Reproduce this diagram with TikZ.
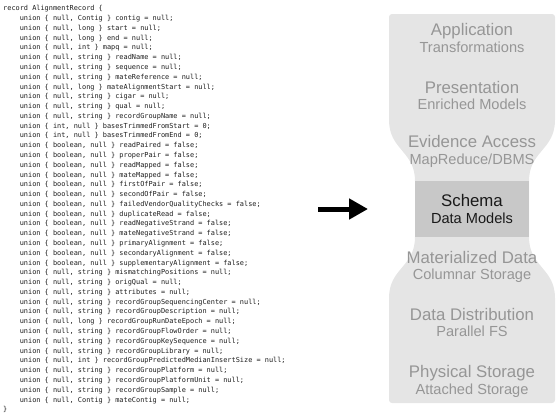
\documentclass[tikz,border=0pt]{standalone}
\usepackage{fontspec}
\setmainfont{Liberation Sans}
\newfontfamily\codefont{DejaVu Sans Mono}
\usetikzlibrary{arrows.meta}

\definecolor{stackfill}{RGB}{229,229,229}
\definecolor{schemafill}{RGB}{200,200,200}
\definecolor{layertext}{RGB}{150,150,150}
\definecolor{codeink}{RGB}{30,30,30}

\newcommand{\ind}{\hspace*{16.6pt}}

\tikzset{
  codeline/.style={anchor=base west, inner sep=0pt, text=codeink,
    font=\codefont\fontsize{6.9}{9.78}\selectfont},
  layertitle/.style={anchor=base, inner sep=0pt, text=layertext,
    font=\fontsize{16.8}{18}\selectfont},
  layersub/.style={anchor=base, inner sep=0pt, text=layertext,
    font=\fontsize{14.6}{16}\selectfont},
  schematitle/.style={layertitle, text=black!90},
  schemasub/.style={layersub, text=black!90},
  bigarrow/.style={line width=5pt, -{Triangle[length=19pt,width=20pt]}},
}

\begin{document}
\begin{tikzpicture}[x=1pt, y=-1pt]
  \useasboundingbox (0,0) rectangle (557,418);

  % Avro record definition, one node per source line
  \foreach \txt [count=\i from 0] in {
    {record AlignmentRecord \{},
    {\ind union \{ null, Contig \} contig = null;},
    {\ind union \{ null, long \} start = null;},
    {\ind union \{ null, long \} end = null;},
    {\ind union \{ null, int \} mapq = null;},
    {\ind union \{ null, string \} readName = null;},
    {\ind union \{ null, string \} sequence = null;},
    {\ind union \{ null, string \} mateReference = null;},
    {\ind union \{ null, long \} mateAlignmentStart = null;},
    {\ind union \{ null, string \} cigar = null;},
    {\ind union \{ null, string \} qual = null;},
    {\ind union \{ null, string \} recordGroupName = null;},
    {\ind union \{ int, null \} basesTrimmedFromStart = 0;},
    {\ind union \{ int, null \} basesTrimmedFromEnd = 0;},
    {\ind union \{ boolean, null \} readPaired = false;},
    {\ind union \{ boolean, null \} properPair = false;},
    {\ind union \{ boolean, null \} readMapped = false;},
    {\ind union \{ boolean, null \} mateMapped = false;},
    {\ind union \{ boolean, null \} firstOfPair = false;},
    {\ind union \{ boolean, null \} secondOfPair = false;},
    {\ind union \{ boolean, null \} failedVendorQualityChecks = false;},
    {\ind union \{ boolean, null \} duplicateRead = false;},
    {\ind union \{ boolean, null \} readNegativeStrand = false;},
    {\ind union \{ boolean, null \} mateNegativeStrand = false;},
    {\ind union \{ boolean, null \} primaryAlignment = false;},
    {\ind union \{ boolean, null \} secondaryAlignment = false;},
    {\ind union \{ boolean, null \} supplementaryAlignment = false;},
    {\ind union \{ null, string \} mismatchingPositions = null;},
    {\ind union \{ null, string \} origQual = null;},
    {\ind union \{ null, string \} attributes = null;},
    {\ind union \{ null, string \} recordGroupSequencingCenter = null;},
    {\ind union \{ null, string \} recordGroupDescription = null;},
    {\ind union \{ null, long \} recordGroupRunDateEpoch = null;},
    {\ind union \{ null, string \} recordGroupFlowOrder = null;},
    {\ind union \{ null, string \} recordGroupKeySequence = null;},
    {\ind union \{ null, string \} recordGroupLibrary = null;},
    {\ind union \{ null, int \} recordGroupPredictedMedianInsertSize = null;},
    {\ind union \{ null, string \} recordGroupPlatform = null;},
    {\ind union \{ null, string \} recordGroupPlatformUnit = null;},
    {\ind union \{ null, string \} recordGroupSample = null;},
    {\ind union \{ null, Contig \} mateContig = null;},
    {\}}
  }{
    \node[codeline] (line\i) at (3, {10.8 + 9.78*\i}) {\txt};
  }

  % pointer from the record to the schema layer
  \coordinate (arrowtail) at (318,209);
  \coordinate (arrowtip) at (368,209);
  \draw[bigarrow] (arrowtail) -- (arrowtip);

  % hourglass-shaped layer stack, narrowest at the schema layer
  \fill[stackfill]
    (389,120) -- (389,17) .. controls (389,15.3) and (390.3,14) .. (392,14)
    -- (552,14) .. controls (553.7,14) and (555,15.3) .. (555,17)
    -- (555,120) .. controls (555,150) and (529,151) .. (529,181)
    -- (529,237) .. controls (529,267) and (555,268) .. (555,298)
    -- (555,400) .. controls (555,401.7) and (553.7,403) .. (552,403)
    -- (392,403) .. controls (390.3,403) and (389,401.7) .. (389,400)
    -- (389,298) .. controls (389,268) and (415,267) .. (415,237)
    -- (415,181) .. controls (415,151) and (389,150) .. (389,120) -- cycle;
  \fill[schemafill] (415,181) rectangle (529,237);

  % layer labels
  \node[layertitle] (app)     at (472,35)  {Application};
  \node[layersub]   (appsub)  at (472,52)  {Transformations};
  \node[layertitle] (pres)    at (472,93)  {Presentation};
  \node[layersub]   (pressub) at (472,109) {Enriched Models};
  \node[layertitle] (evid)    at (472,147) {Evidence Access};
  \node[layersub]   (evidsub) at (472,164) {MapReduce/DBMS};
  \node[schematitle] (schema)    at (472,206) {Schema};
  \node[schemasub]   (schemasub) at (472,223) {Data Models};
  \node[layertitle] (mat)     at (472,263) {Materialized Data};
  \node[layersub]   (matsub)  at (472,279) {Columnar Storage};
  \node[layertitle] (dist)    at (472,320) {Data Distribution};
  \node[layersub]   (distsub) at (472,336) {Parallel FS};
  \node[layertitle] (phys)    at (472,377) {Physical Storage};
  \node[layersub]   (physsub) at (472,394) {Attached Storage};
\end{tikzpicture}
\end{document}
